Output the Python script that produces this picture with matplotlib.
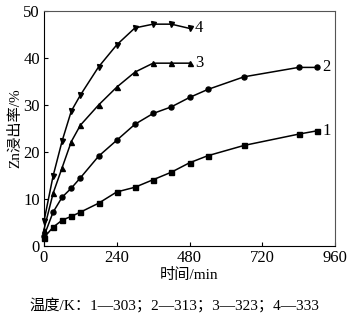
import matplotlib
matplotlib.use("Agg")
import matplotlib.pyplot as plt

plt.rcParams["font.family"] = ["Liberation Serif", "Noto Sans CJK SC"]
plt.rcParams["mathtext.fontset"] = "stix"

# 浸出时间, min
t_long = [0, 30, 60, 90, 120, 180, 240, 300, 360, 420, 480, 540, 660, 840, 900]
t_short = [0, 30, 60, 90, 120, 180, 240, 300, 360, 420, 480]

# Zn 浸出率, %
zn_303 = [1.8, 4.0, 5.5, 6.3, 7.2, 9.1, 11.5, 12.5, 14.1, 15.7, 17.7, 19.2, 21.4, 23.8, 24.5]
zn_313 = [2.1, 7.2, 10.4, 12.3, 14.5, 19.1, 22.5, 25.9, 28.2, 29.6, 31.6, 33.3, 36.0, 38.0, 38.0]
zn_323 = [3.5, 11.2, 16.7, 22.2, 25.7, 30.0, 33.8, 37.0, 38.9, 38.9, 38.9]
zn_333 = [5.3, 14.9, 22.4, 28.7, 32.1, 38.1, 42.8, 46.4, 47.2, 47.2, 46.3]

curves = [
    (t_long, zn_303, "s", "1"),
    (t_long, zn_313, "o", "2"),
    (t_short, zn_323, "^", "3"),
    (t_short, zn_333, "v", "4"),
]

fig = plt.figure(figsize=(3.5, 3.21), dpi=100)
ax = fig.add_axes([44 / 350, 1 - 246 / 321, 291 / 350, 235 / 321])

for t, zn, marker, label in curves:
    ax.plot(t, zn, color="black", lw=1.1, marker=marker, markersize=3.6,
            clip_on=False, zorder=3)
    ax.annotate(label, xy=(t[-1], zn[-1]), xytext=(4, 0),
                textcoords="offset points", va="center", ha="left",
                fontsize=12)

ax.set_xlim(0, 960)
ax.set_ylim(0, 50)
ax.set_xticks([0, 240, 480, 720, 960])
ax.set_yticks([0, 10, 20, 30, 40, 50])
ax.tick_params(direction="in", length=3, width=0.8, labelsize=12, pad=3,
               top=False, right=False)
for spine in ax.spines.values():
    spine.set_linewidth(0.8)
    spine.set_color("#555555")
ax.spines["left"].set_color("black")
ax.spines["bottom"].set_color("black")

ax.set_xlabel("时间/min", fontsize=11, labelpad=1)
ax.set_ylabel("Zn浸出率/%", fontsize=11, labelpad=1)

fig.text(174 / 350, 1 - 306 / 321, "温度/K：1—303；2—313；3—323；4—333",
         ha="center", va="center", fontsize=11)

fig.savefig("out.png", dpi=100)
